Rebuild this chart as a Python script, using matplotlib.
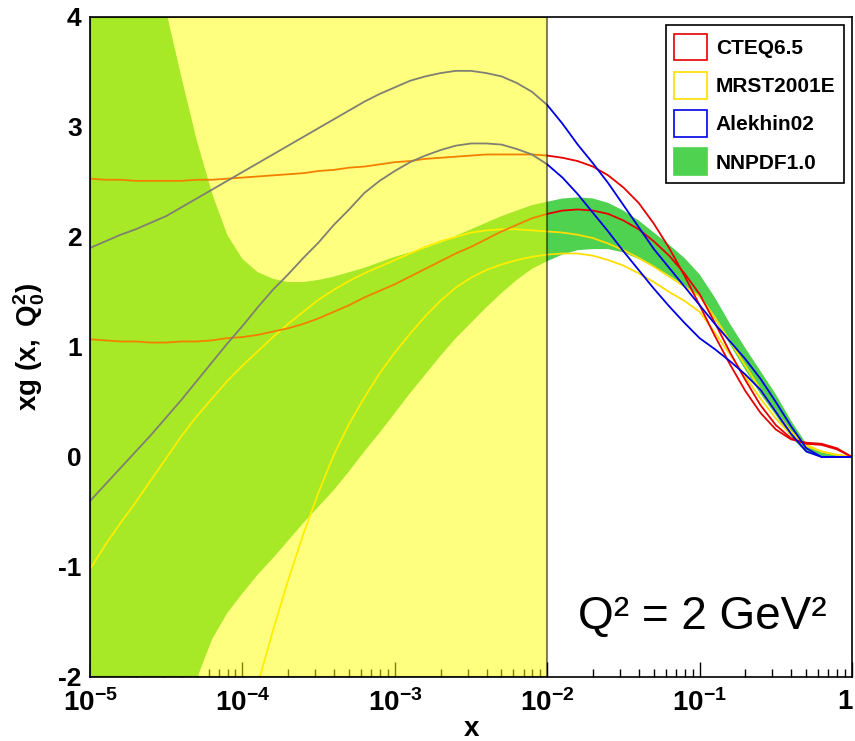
import numpy as np
import matplotlib
matplotlib.use("Agg")
import matplotlib.pyplot as plt
import matplotlib.transforms as mtransforms
from matplotlib.patches import Patch

nan = np.nan

# log10(x) sampling points shared by all curves
LOG_X = [-5.0, -4.9, -4.8, -4.7, -4.6, -4.5, -4.4, -4.3, -4.2, -4.1,
         -4.0, -3.9, -3.8, -3.7, -3.6, -3.5, -3.4, -3.3, -3.2, -3.1,
         -3.0, -2.9, -2.8, -2.7, -2.6, -2.5, -2.4, -2.3, -2.2, -2.1,
         -2.0, -1.9, -1.8, -1.7, -1.6, -1.5, -1.4, -1.3, -1.2, -1.1,
         -1.0, -0.9, -0.8, -0.7, -0.6, -0.5, -0.4, -0.3, -0.2, -0.1,
         0.0]

# CTEQ6.5 error envelope
CTEQ_HI = [2.53, 2.52, 2.52, 2.51, 2.51, 2.51, 2.51, 2.52, 2.52, 2.53,
           2.54, 2.55, 2.56, 2.57, 2.58, 2.60, 2.61, 2.63, 2.64, 2.66,
           2.68, 2.69, 2.71, 2.72, 2.73, 2.74, 2.75, 2.75, 2.75, 2.75,
           2.74, 2.72, 2.69, 2.64, 2.56, 2.45, 2.31, 2.12, 1.90, 1.65,
           1.38, 1.10, 0.84, 0.60, 0.40, 0.25, 0.16, 0.13, 0.12, 0.08,
           0.00]
CTEQ_LO = [1.07, 1.06, 1.05, 1.05, 1.04, 1.04, 1.05, 1.05, 1.06, 1.08,
           1.09, 1.11, 1.14, 1.17, 1.21, 1.26, 1.32, 1.38, 1.45, 1.51,
           1.57, 1.64, 1.71, 1.78, 1.85, 1.91, 1.98, 2.05, 2.11, 2.17,
           2.21, 2.24, 2.25, 2.24, 2.21, 2.15, 2.07, 1.96, 1.83, 1.67,
           1.48, 1.22, 0.95, 0.70, 0.47, 0.29, 0.17, 0.12, 0.11, 0.07,
           0.00]

# MRST2001E error envelope
MRST_HI = [-1.02, -0.80, -0.60, -0.41, -0.21, -0.01, 0.19, 0.37, 0.53, 0.69,
           0.83, 0.96, 1.09, 1.21, 1.32, 1.43, 1.52, 1.60, 1.67, 1.73,
           1.79, 1.85, 1.91, 1.96, 2.00, 2.04, 2.06, 2.07, 2.07, 2.06,
           2.05, 2.04, 2.02, 1.99, 1.94, 1.88, 1.81, 1.73, 1.64, 1.55,
           1.46, 1.27, 1.05, 0.83, 0.61, 0.41, 0.23, 0.11, 0.05, 0.02,
           0.00]
MRST_LO = [nan, nan, nan, nan, nan, nan, nan, nan, nan, -3.05,
           -2.55, -2.07, -1.58, -1.12, -0.70, -0.32, 0.02, 0.30, 0.54, 0.76,
           0.95, 1.12, 1.28, 1.42, 1.54, 1.63, 1.70, 1.75, 1.79, 1.82,
           1.84, 1.85, 1.85, 1.83, 1.79, 1.74, 1.67, 1.59, 1.50, 1.42,
           1.32, 1.13, 0.93, 0.73, 0.53, 0.35, 0.20, 0.10, 0.05, 0.02,
           0.00]

# Alekhin02 error envelope
ALEKHIN_HI = [1.90, 1.96, 2.02, 2.07, 2.13, 2.19, 2.27, 2.35, 2.43, 2.51,
              2.59, 2.67, 2.75, 2.83, 2.91, 2.99, 3.07, 3.15, 3.23, 3.30,
              3.36, 3.42, 3.46, 3.49, 3.51, 3.51, 3.49, 3.46, 3.40, 3.32,
              3.20, 3.03, 2.84, 2.67, 2.49, 2.29, 2.09, 1.89, 1.72, 1.55,
              1.38, 1.21, 1.05, 0.89, 0.71, 0.50, 0.28, 0.08, 0.00, 0.00,
              0.00]
ALEKHIN_LO = [-0.40, -0.25, -0.10, 0.05, 0.20, 0.36, 0.52, 0.69, 0.86, 1.03,
              1.19, 1.36, 1.52, 1.66, 1.81, 1.95, 2.11, 2.25, 2.40, 2.51,
              2.60, 2.68, 2.74, 2.79, 2.83, 2.85, 2.85, 2.84, 2.80, 2.75,
              2.66, 2.54, 2.39, 2.22, 2.05, 1.87, 1.70, 1.53, 1.37, 1.22,
              1.08, 0.98, 0.87, 0.75, 0.61, 0.41, 0.21, 0.05, 0.00, 0.00,
              0.00]

# NNPDF1.0 one-sigma band
NNPDF_HI = [8.20, 7.20, 6.30, 5.50, 4.75, 4.05, 3.45, 2.88, 2.40, 2.02,
            1.80, 1.68, 1.62, 1.59, 1.59, 1.61, 1.64, 1.68, 1.72, 1.77,
            1.82, 1.86, 1.90, 1.95, 2.01, 2.07, 2.13, 2.19, 2.24, 2.29,
            2.32, 2.35, 2.36, 2.35, 2.31, 2.24, 2.15, 2.04, 1.93, 1.81,
            1.66, 1.45, 1.21, 0.99, 0.78, 0.57, 0.33, 0.12, 0.04, 0.02,
            0.00]
NNPDF_LO = [-6.00, -5.20, -4.50, -3.90, -3.30, -2.80, -2.40, -2.02, -1.66, -1.42,
            -1.24, -1.07, -0.92, -0.76, -0.60, -0.45, -0.30, -0.13, 0.05, 0.22,
            0.40, 0.58, 0.75, 0.92, 1.08, 1.22, 1.36, 1.49, 1.61, 1.71,
            1.78, 1.84, 1.88, 1.89, 1.89, 1.86, 1.80, 1.73, 1.65, 1.56,
            1.46, 1.25, 1.02, 0.79, 0.57, 0.38, 0.18, 0.04, 0.00, 0.00,
            0.00]

X_TICKS = [1e-5, 1e-4, 1e-3, 1e-2, 1e-1, 1]
X_TICK_LABELS = [r"$\mathbf{10^{-5}}$", r"$\mathbf{10^{-4}}$", r"$\mathbf{10^{-3}}$",
                 r"$\mathbf{10^{-2}}$", r"$\mathbf{10^{-1}}$", r"$\mathbf{1}$"]
Y_TICKS = [-2, -1, 0, 1, 2, 3, 4]
LEGEND_LABELS = ["CTEQ6.5", "MRST2001E", "Alekhin02", "NNPDF1.0"]

RED = "#e60000"
YELLOW = "#ffdd00"
BLUE = "#0000e6"
GREEN = "#4fd24f"

plt.rcParams["font.family"] = ["Liberation Sans", "DejaVu Sans"]
plt.rcParams["mathtext.fontset"] = "custom"
plt.rcParams["mathtext.rm"] = "Liberation Sans"
plt.rcParams["mathtext.bf"] = "Liberation Sans:bold"
plt.rcParams["mathtext.it"] = "Liberation Sans:italic"

x = 10 ** np.array(LOG_X)

fig = plt.figure(figsize=(8.55, 7.41), dpi=100)
ax = fig.add_axes([0.1053, 0.0864, 0.8912, 0.8907])
ax.set_xscale("log")

# NNPDF band
ax.fill_between(x, NNPDF_LO, NNPDF_HI, color=GREEN, linewidth=0, zorder=1)

# error envelopes of the other fits
lw = 1.3
for lo, hi, c in [(MRST_LO, MRST_HI, YELLOW), (CTEQ_LO, CTEQ_HI, RED),
                  (ALEKHIN_LO, ALEKHIN_HI, BLUE)]:
    ax.plot(x, hi, color=c, lw=lw, zorder=2)
    ax.plot(x, lo, color=c, lw=lw, zorder=2)

# small-x extrapolation region
ax.axvspan(1e-5, 1e-2, facecolor=(1, 1, 0, 0.5), edgecolor=(0, 0, 0, 0.5),
           linewidth=1.5, zorder=3)

ax.set_xlim(1e-5, 1)
ax.set_ylim(-2, 4)
ax.set_axisbelow(True)

ax.set_xticks(X_TICKS)
ax.set_xticklabels(X_TICK_LABELS)
ax.set_yticks(Y_TICKS)
ax.set_yticklabels([str(v) for v in Y_TICKS], fontweight="bold")
ax.tick_params(axis="x", which="major", direction="in", length=11, width=1.0,
               pad=9, labelsize=20)
ax.tick_params(axis="x", which="minor", direction="in", length=6, width=1.0)
ax.tick_params(axis="y", which="both", length=0, pad=6, labelsize=19)
for s in ax.spines.values():
    s.set_linewidth(1.2)
    s.set_zorder(4)

# keep the last x label inside the canvas
last = ax.get_xticklabels()[-1]
last.set_horizontalalignment("right")
last.set_transform(last.get_transform() +
                   mtransforms.ScaledTranslation(1 / 72, 0, fig.dpi_scale_trans))

ax.set_xlabel("x", fontsize=20, fontweight="bold", labelpad=-1)
ax.set_ylabel(r"$\mathbf{xg\ (x,\ Q_0^2)}$", fontsize=20)
ax.yaxis.set_label_coords(-0.057, 0.5)

ax.text(0.64, 0.073, "Q² = 2 GeV²", transform=ax.transAxes, fontsize=33,
        va="baseline", ha="left", zorder=6)

handles = [Patch(facecolor="white", edgecolor=RED, linewidth=1.2),
           Patch(facecolor="white", edgecolor=YELLOW, linewidth=1.2),
           Patch(facecolor="white", edgecolor=BLUE, linewidth=1.2),
           Patch(facecolor=GREEN, edgecolor=GREEN, linewidth=1.2)]
leg = ax.legend(handles, LEGEND_LABELS, loc="upper right",
                prop={"weight": "bold", "size": 15}, fancybox=False,
                framealpha=1, edgecolor="black", borderpad=0.4,
                handlelength=1.6, handleheight=1.6, labelspacing=0.55,
                handletextpad=0.4, borderaxespad=0.4)
leg.get_frame().set_linewidth(1.2)
leg.set_zorder(7)

plt.savefig("out.png", dpi=100)
